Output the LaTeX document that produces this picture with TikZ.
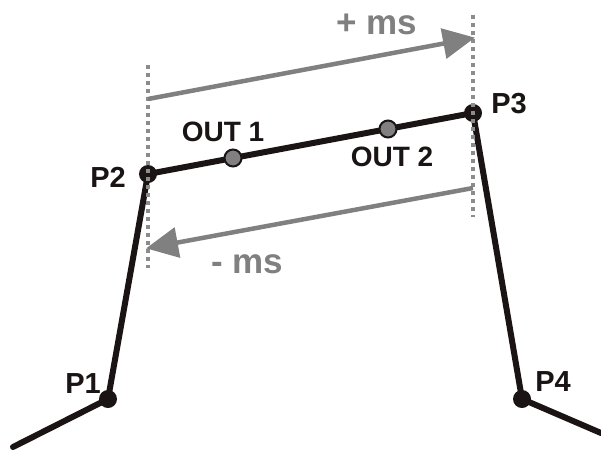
\documentclass[tikz,border=0pt]{standalone}
\usepackage{fontspec}
\setmainfont{Liberation Sans}
\usetikzlibrary{arrows.meta}
\definecolor{ink}{HTML}{1A1414}
\definecolor{arrgray}{HTML}{808080}
\definecolor{dotgray}{HTML}{8C8C8C}
\begin{document}
\begin{tikzpicture}[x=1pt,y=-1pt,
  leg/.style={draw=ink,line width=6pt,line cap=round,line join=round},
  joint/.style={circle,fill=ink,minimum size=18pt,inner sep=0pt},
  outpt/.style={circle,fill=arrgray,draw=ink,line width=2pt,minimum size=17pt,inner sep=0pt},
  plabel/.style={font=\bfseries\fontsize{29}{31}\selectfont,text=ink,inner sep=0pt},
  olabel/.style={font=\bfseries\fontsize{28}{30}\selectfont,text=ink,inner sep=0pt},
  mslabel/.style={font=\bfseries\fontsize{35}{37}\selectfont,text=arrgray,inner sep=0pt},
  guide/.style={draw=dotgray,line width=4pt,dash pattern=on 4pt off 4pt},
  msarrow/.style={draw=arrgray,line width=4.5pt,-{Triangle[length=32pt,width=30pt]},shorten >=-2pt}]
\useasboundingbox (0,0) rectangle (601,450);
% coordinates
\coordinate (L) at (13,447);
\coordinate (R) at (601,433);
\coordinate (a1) at (108,399);
\coordinate (a2) at (148,174);
\coordinate (a3) at (473,113);
\coordinate (a4) at (522,399);
% black polyline
\draw[leg] (L) -- (a1) -- (a2) -- (a3) -- (a4) -- (R);
% joints
\node[joint] (P1) at (a1) {};
\node[joint] (P2) at (a2) {};
\node[joint] (P3) at (a3) {};
\node[joint] (P4) at (a4) {};
\node[outpt] (O1) at (233,158) {};
\node[outpt] (O2) at (388,129) {};
% guides
\coordinate (g1t) at (148,65);
\coordinate (g1b) at (148,268);
\coordinate (g2t) at (473,15);
\coordinate (g2b) at (473,217);
\draw[guide] (g1t) -- (g1b);
\draw[guide] (g2t) -- (g2b);
% arrows
\coordinate (u1) at (148,99);
\coordinate (u2) at (473,38);
\coordinate (d1) at (473,188);
\coordinate (d2) at (148,248);
\draw[msarrow] (u1) -- (u2);
\draw[msarrow] (d1) -- (d2);
% labels
\node[plabel] (t1) at (83,384) {P1};
\node[plabel] (t2) at (108,177) {P2};
\node[plabel] (t3) at (509,104) {P3};
\node[plabel] (t4) at (553,382) {P4};
\node[olabel] (to1) at (223,132) {OUT 1};
\node[olabel] (to2) at (392,157) {OUT 2};
\node[mslabel] (tp) at (377,24) {+ ms};
\node[mslabel] (tm) at (247,264) {- ms};
\end{tikzpicture}
\end{document}
